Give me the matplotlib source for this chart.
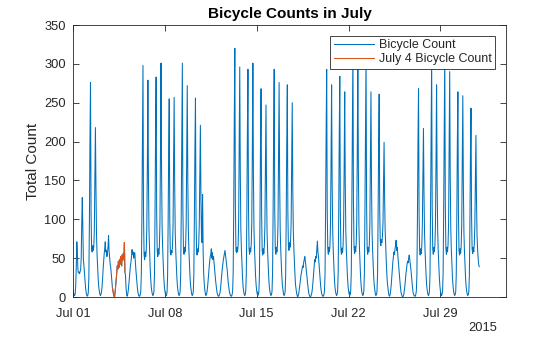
import numpy as np
import matplotlib
matplotlib.use("Agg")
from matplotlib import pyplot as plt
import matplotlib.dates as mdates

plt.rcParams['font.family'] = ['Liberation Sans', 'DejaVu Sans']

# hourly totals, one row per day of July 2015 (hours 00..23)
jul01 = [9, 5, 3, 2, 4, 15, 40, 71, 55, 35, 31, 32, 30, 33, 35, 50, 95, 128, 90, 48, 40, 30, 20, 12]
jul02 = [6, 3, 1, 2, 6, 25, 95, 200, 276, 110, 62, 58, 66, 60, 64, 85, 150, 218, 140, 80, 55, 38, 24, 14]
jul03 = [8, 4, 2, 3, 6, 12, 22, 35, 45, 55, 62, 71, 58, 60, 52, 56, 64, 79, 60, 50, 42, 38, 30, 22]
jul04 = [13, 8, 4, 1, 0, 6, 14, 22, 31, 40, 36, 46, 38, 48, 42, 52, 45, 40, 54, 47, 56, 50, 70, 32]
jul05 = [28, 12, 4, 1, 3, 8, 15, 24, 32, 40, 45, 52, 61, 55, 58, 50, 56, 57, 45, 35, 26, 18, 10, 5]
jul06 = [2, 1, 1, 3, 8, 30, 100, 210, 298, 105, 55, 48, 58, 52, 60, 90, 170, 279, 150, 85, 60, 40, 25, 14]
jul07 = [8, 4, 2, 3, 7, 28, 105, 205, 283, 110, 60, 52, 62, 55, 64, 95, 185, 301, 160, 90, 62, 42, 26, 15]
jul08 = [8, 4, 2, 2, 6, 26, 95, 190, 255, 100, 58, 54, 60, 57, 66, 92, 170, 257, 145, 82, 58, 40, 25, 14]
jul09 = [8, 4, 2, 3, 7, 30, 110, 215, 301, 112, 62, 55, 64, 58, 66, 94, 180, 272, 150, 86, 60, 42, 26, 15]
jul10 = [9, 4, 2, 3, 7, 28, 100, 190, 256, 105, 60, 54, 62, 58, 68, 95, 160, 221, 130, 80, 70, 132, 60, 30]
jul11 = [18, 10, 5, 2, 3, 6, 12, 20, 30, 38, 46, 52, 55, 62, 50, 57, 48, 52, 44, 36, 28, 20, 14, 8]
jul12 = [4, 2, 1, 1, 3, 6, 12, 20, 28, 36, 42, 48, 52, 56, 60, 54, 48, 42, 35, 26, 18, 12, 7, 4]
jul13 = [2, 1, 1, 3, 8, 32, 115, 230, 320, 120, 60, 57, 64, 58, 66, 98, 190, 296, 160, 88, 62, 42, 26, 14]
jul14 = [8, 4, 2, 3, 8, 30, 110, 215, 293, 115, 62, 55, 63, 58, 68, 96, 188, 301, 158, 88, 62, 42, 26, 15]
jul15 = [8, 4, 2, 3, 7, 28, 100, 200, 268, 108, 60, 54, 62, 56, 66, 92, 165, 247, 140, 82, 58, 40, 25, 14]
jul16 = [8, 4, 2, 3, 7, 30, 108, 212, 293, 112, 62, 55, 64, 58, 67, 95, 178, 276, 150, 86, 60, 42, 26, 15]
jul17 = [9, 4, 2, 3, 7, 28, 102, 200, 273, 110, 66, 60, 70, 64, 73, 96, 170, 250, 140, 85, 62, 44, 28, 16]
jul18 = [10, 5, 2, 0, 2, 5, 10, 16, 22, 28, 32, 36, 40, 38, 45, 48, 52, 46, 40, 32, 26, 18, 12, 6]
jul19 = [3, 1, 0, 1, 3, 6, 12, 20, 30, 40, 48, 45, 52, 50, 60, 72, 58, 52, 42, 32, 22, 14, 8, 4]
jul20 = [2, 1, 1, 3, 8, 30, 108, 212, 293, 112, 62, 55, 64, 58, 66, 94, 175, 273, 148, 86, 60, 42, 26, 14]
jul21 = [8, 4, 2, 3, 7, 30, 105, 208, 284, 110, 62, 55, 63, 57, 66, 94, 170, 264, 145, 85, 60, 42, 26, 15]
jul22 = [8, 4, 2, 3, 8, 32, 115, 225, 318, 120, 64, 56, 65, 58, 68, 98, 190, 312, 165, 90, 62, 43, 26, 15]
jul23 = [8, 4, 2, 3, 8, 31, 112, 220, 310, 118, 63, 55, 64, 58, 67, 95, 172, 264, 145, 85, 60, 42, 26, 15]
jul24 = [9, 4, 2, 3, 7, 28, 100, 195, 261, 112, 72, 66, 74, 70, 78, 95, 150, 199, 125, 85, 64, 46, 30, 18]
jul25 = [12, 6, 2, 1, 3, 8, 15, 25, 35, 45, 52, 58, 55, 62, 66, 73, 60, 64, 55, 45, 36, 28, 20, 12]
jul26 = [6, 3, 1, 0, 1, 3, 8, 14, 22, 30, 36, 42, 46, 44, 50, 54, 48, 42, 36, 28, 20, 12, 6, 3]
jul27 = [2, 1, 1, 3, 8, 28, 100, 200, 268, 108, 60, 54, 62, 56, 66, 92, 160, 217, 135, 82, 58, 40, 25, 14]
jul28 = [8, 4, 2, 3, 8, 30, 110, 215, 305, 115, 62, 55, 64, 58, 67, 95, 175, 273, 150, 86, 60, 42, 26, 15]
jul29 = [8, 4, 2, 3, 8, 31, 112, 222, 312, 118, 63, 55, 64, 58, 67, 96, 185, 290, 155, 88, 61, 42, 26, 15]
jul30 = [8, 4, 2, 3, 7, 28, 100, 198, 264, 108, 60, 54, 62, 56, 66, 92, 170, 259, 145, 84, 59, 41, 25, 14]
jul31 = [8, 4, 2, 3, 7, 27, 95, 185, 243, 105, 62, 56, 64, 58, 68, 92, 150, 208, 125, 80, 62, 50, 42, 39]

days = [jul01, jul02, jul03, jul04, jul05, jul06, jul07, jul08, jul09, jul10,
        jul11, jul12, jul13, jul14, jul15, jul16, jul17, jul18, jul19, jul20,
        jul21, jul22, jul23, jul24, jul25, jul26, jul27, jul28, jul29, jul30, jul31]

tick_days = ["2015-07-01", "2015-07-08", "2015-07-15", "2015-07-22", "2015-07-29"]

total = np.concatenate(days)
times = np.arange("2015-07-01T00", "2015-08-01T00", dtype="datetime64[h]").astype("datetime64[m]")
july4 = (times >= np.datetime64("2015-07-04T00:00")) & (times < np.datetime64("2015-07-05T00:00"))

blue = "#0072BD"
orange = "#D95319"
grey = "#262626"

fig = plt.figure(figsize=(5.6, 3.37), dpi=100)
ax = fig.add_axes([73 / 560, 1 - 297 / 337, 433 / 560, 272 / 337])

ax.plot(times, total, color=blue, lw=0.75, label="Bicycle Count")
ax.plot(times[july4], total[july4], color=orange, lw=0.75, label="July 4 Bicycle Count")

ax.set_xlim(np.datetime64("2015-07-01T00:00"), np.datetime64("2015-08-03T00:00"))
ax.set_ylim(0, 350)
ax.set_yticks(np.arange(0, 351, 50))
ax.set_xticks([np.datetime64(d + "T00:00") for d in tick_days])
ax.xaxis.set_major_formatter(mdates.DateFormatter("%b %d"))

for s in ax.spines.values():
    s.set_linewidth(0.6)
    s.set_color(grey)
ax.tick_params(direction="in", length=4, width=0.6, colors=grey, labelsize=9.3,
               top=True, right=True)
ax.tick_params(axis="x", pad=8)
ax.tick_params(axis="y", pad=5)

ax.set_title("Bicycle Counts in July", fontsize=11, fontweight="bold", color="black", pad=5)
ax.set_ylabel("Total Count", fontsize=11, color=grey, labelpad=3)
ax.text(1 - 9 / 433, -0.092, "2015", transform=ax.transAxes, ha="right", va="top",
        fontsize=9.3, color=grey)

leg = ax.legend(loc="upper right", fontsize=9, handlelength=3.2, handletextpad=0.4,
                borderpad=0.3, labelspacing=0.15, borderaxespad=0.85, fancybox=False)
leg.get_frame().set_edgecolor(grey)
leg.get_frame().set_linewidth(0.6)
leg.get_frame().set_alpha(1)
for t in leg.get_texts():
    t.set_color(grey)

fig.savefig("out.png", dpi=100)
